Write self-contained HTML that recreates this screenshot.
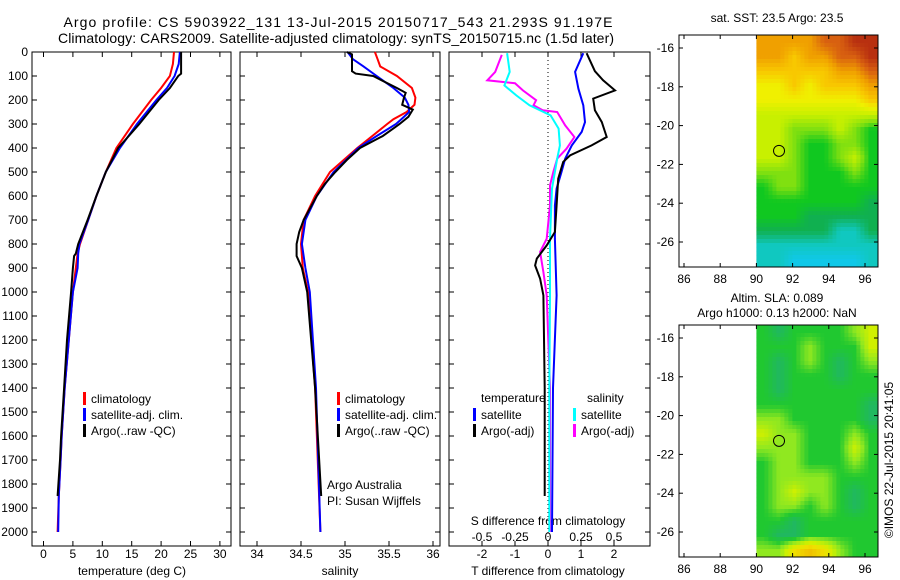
<!DOCTYPE html>
<html><head><meta charset="utf-8"><style>
body{margin:0;background:#fff}
svg{display:block;font-family:"Liberation Sans",sans-serif;font-size:12px}
</style></head><body>
<svg id="c" width="900" height="580" xmlns="http://www.w3.org/2000/svg"></svg>
<script>
// ---------- data ----------
const depthTemp = [0,50,100,150,200,300,400,500,600,700,800,840,900,1000,1200,1400,1600,1700,1850,2000];
const tempClim =  [22.2,22.0,21.5,20.0,18.3,15.2,12.4,10.6,9.0,7.6,6.2,5.8,5.5,5.0,4.3,3.6,3.1,2.9,2.6,2.4];
const tempSat =   [23.2,23.0,22.3,21.0,19.2,15.9,13.0,10.6,9.0,7.6,6.1,5.9,5.8,5.0,4.3,3.6,3.1,2.9,2.6,2.5];
const depthArgo = [0,90,100,150,200,300,400,500,600,700,800,840,850,900,1000,1200,1400,1600,1700,1850];
const tempArgo =  [23.4,23.4,22.9,21.5,19.6,16.3,12.7,10.6,9.0,7.5,5.9,5.5,5.2,5.0,4.7,4.0,3.5,3.0,2.8,2.4];

const depthSal = [0,30,60,100,150,190,220,250,280,300,350,400,500,600,700,800,900,1000,1400,2000];
const salClim = [35.34,35.37,35.40,35.59,35.76,35.80,35.79,35.70,35.55,35.48,35.31,35.14,34.83,34.66,34.53,34.50,34.52,34.58,34.66,34.72];
const salSat =  [35.03,35.09,35.21,35.36,35.55,35.68,35.72,35.73,35.64,35.58,35.36,35.15,34.87,34.68,34.55,34.51,34.55,34.60,34.67,34.72];
const depthSalArgo = [0,10,80,90,100,150,170,190,220,240,270,300,350,400,450,500,550,600,700,750,800,850,900,1000,1400,1850];
const salArgo = [35.02,35.08,35.08,35.12,35.32,35.59,35.69,35.67,35.65,35.77,35.72,35.62,35.43,35.17,35.02,34.89,34.77,34.68,34.53,34.48,34.45,34.45,34.51,34.57,34.66,34.73];

const depthDT = [5,83,153,222,292,333,389,444,500,569,639,778,917,1014,1400,2000];
const dTsat = [1.07,0.82,0.92,1.07,1.12,1.02,0.72,0.52,0.41,0.26,0.21,0.21,0.24,0.26,0.15,0.12];
const depthDTargo = [5,80,118,160,194,243,292,354,389,431,458,528,639,750,806,861,889,944,1014,1400,1850];
const dTargo = [1.17,1.42,1.67,2.03,1.37,1.42,1.63,1.78,1.32,0.67,0.46,0.31,0.26,0.21,-0.04,-0.34,-0.39,-0.24,-0.14,-0.10,-0.10];
const depthDS = [5,83,139,181,222,264,319,389,444,569,778,1014,1400,2000];
const dSsat = [-0.31,-0.29,-0.33,-0.24,-0.14,0.02,0.08,0.09,0.07,0.03,0.015,0.015,0.01,0.01];
const depthDSargo = [12,83,118,130,160,201,222,243,250,306,354,403,444,500,556,639,778,833,917,1014,1400,2000];
const dSargo = [-0.35,-0.40,-0.46,-0.25,-0.19,-0.09,-0.11,-0.04,0.07,0.13,0.20,0.14,0.07,0.04,0.015,0.015,-0.01,-0.06,-0.035,-0.01,0.015,0.015];

const sstGrid = [
[8,8,8,8,9,9,10,10],[8,8,7,8,8,9,9,10],[7,7,7,7,7,8,8,9],[6,6,7,6,7,7,7,8],
[6,6,6,6,6,6,6,7],[5,5,5,5,5,5,5,5],[5,5,4,4,4,5,4,3],[5,5,4,3,3,4,4,3],
[5,5,4,3,3,4,5,3],[4,4,4,3,3,3,4,3],[3,4,4,3,3,3,3,3],[3,3,3,3,3,3,3,2],
[3,3,3,2,2,2,2,2],[2,2,2,2,2,1,1,2],[1,1,1,1,1,1,1,1],[1,1,0,0,0,0,0,1]];
const slaGrid = [
[3,2,3,3,3,3,4,5],[3,3,3,4,3,3,3,5],[3,2,3,4,3,2,3,4],[3,2,3,3,3,2,3,3],
[3,2,3,3,3,3,3,3],[3,3,3,3,3,3,3,2],[4,4,3,3,3,3,3,2],[5,4,4,3,3,3,4,3],
[4,4,4,3,3,3,5,3],[3,4,4,3,3,3,4,3],[3,4,4,4,4,3,3,3],[3,4,5,4,4,3,2,3],
[3,4,4,3,4,3,2,3],[3,3,2,3,3,3,3,3],[3,2,2,3,3,3,3,3],[4,4,6,7,6,4,3,3]];
const sstColors = ['#10c8e8','#10c8c0','#10b050','#10c820','#80e010','#c8f000','#f0f000','#f8c800','#f0a000','#d86010','#b83010'];
const slaColors = ['#10c8c0','#10b880','#20b860','#20c830','#90e820','#d0f000','#f0e000','#f0c000'];
const depthTicks = [0,100,200,300,400,500,600,700,800,900,1000,1100,1200,1300,1400,1500,1600,1700,1800,1900,2000];
const tempTicks = [0,5,10,15,20,25,30];
const salTicks = [34,34.5,35,35.5,36];
const salTickLabels = ['34','34.5','35','35.5','36'];
const dTTicks = [-2,-1,0,1,2];
const dSTicks = [-0.5,-0.25,0,0.25,0.5];
const dSTickLabels = ['-0.5','-0.25','0','0.25','0.5'];
const lonTicks = [86,88,90,92,94,96];
const latTicks = [-16,-18,-20,-22,-24,-26];
const argoLon = 91.25, argoLat = -21.3;

// ---------- helpers ----------
const NS='http://www.w3.org/2000/svg', svg=document.getElementById('c');
function el(tag,attrs,parent){const e=document.createElementNS(NS,tag);for(const k in attrs)e.setAttribute(k,attrs[k]);(parent||svg).appendChild(e);return e;}
function txt(x,y,s,anchor,parent){const t=el('text',{x:x,y:y,'text-anchor':anchor||'start',fill:'#000'},parent);t.textContent=s;return t;}
const yD = d => 52 + d*0.24;
const xT = t => 43.5 + t*5.88;
const xS = s => 257 + (s-34)*88;
const xDT = v => 548 + v*33;
const xDS = v => 548 + v*132;
const TOP=52, BOT=546;

function panel(x0,x1,name){
  const r=el('rect',{x:x0,y:TOP,width:x1-x0,height:BOT-TOP,fill:'none',stroke:'#000','stroke-width':1});
  
  
  depthTicks.forEach(d=>{el('line',{x1:x0,x2:x0+5,y1:yD(d),y2:yD(d),stroke:'#000'});el('line',{x1:x1-5,x2:x1,y1:yD(d),y2:yD(d),stroke:'#000'});});
}
function line(xs,ds,fx,color,name,w){
  const pts=xs.map((v,i)=>fx(v).toFixed(1)+','+yD(ds[i]).toFixed(1)).join(' ');
  const p=el('polyline',{points:pts,fill:'none',stroke:color,'stroke-width':w||2});
  
  
}
function xticks(ticks,labels,fx,ylab){
  ticks.forEach((t,i)=>{const x=fx(t);el('line',{x1:x,x2:x,y1:TOP,y2:TOP+5,stroke:'#000'});el('line',{x1:x,x2:x,y1:BOT-5,y2:BOT,stroke:'#000'});
    const lt=txt(x,ylab,labels[i],'middle');
    
    });
}

// titles
let t1=txt(338,27,'Argo profile: CS 5903922_131 13-Jul-2015 20150717_543 21.293S 91.197E','middle');
t1.setAttribute('font-size','14');
t1.setAttribute('textLength','549');


let t2=txt(336,43,'Climatology: CARS2009. Satellite-adjusted climatology: synTS_20150715.nc (1.5d later)','middle');
t2.setAttribute('font-size','14');
t2.setAttribute('textLength','556');



// panel 1 temperature
panel(32,231,'temperature-panel');
depthTicks.forEach(d=>{const l=txt(28,yD(d)+4,String(d),'end');
  
  });
xticks(tempTicks,tempTicks.map(String),xT,558);
let a1=txt(132,575,'temperature (deg C)','middle');


line(tempClim,depthTemp,xT,'#f00','temp-climatology-line');
line(tempSat,depthTemp,xT,'#00f','temp-satellite-line');
line(tempArgo,depthArgo,xT,'#000','temp-argo-line');

// panel 2 salinity
panel(240,440,'salinity-panel');
xticks(salTicks,salTickLabels,xS,558);
let a2=txt(340,575,'salinity','middle');


line(salClim,depthSal,xS,'#f00','sal-climatology-line');
line(salSat,depthSal,xS,'#00f','sal-satellite-line');
line(salArgo,depthSalArgo,xS,'#000','sal-argo-line');

// panel 3 differences
panel(449,650,'difference-panel');
el('line',{x1:548,x2:548,y1:TOP,y2:BOT,stroke:'#000','stroke-dasharray':'1,3'});
xticks(dTTicks,dTTicks.map(String),xDT,558);
dSTicks.forEach((t,i)=>{const l=txt(xDS(t),541,dSTickLabels[i],'middle');
  
  });
let a3=txt(548,575,'T difference from climatology','middle');


let a4=txt(548,525,'S difference from climatology','middle');


line(dSargo,depthDSargo,xDS,'#f0f','s-diff-argo-line');
line(dSsat,depthDS,xDS,'#0ff','s-diff-satellite-line');
line(dTsat,depthDT,xDT,'#00f','t-diff-satellite-line');
line(dTargo,depthDTargo,xDT,'#000','t-diff-argo-line');

// legends
function legend(x,y,color,label,name){
  const g=el('g',{});
  
  
  el('rect',{x:x,y:y-10,width:3,height:13,fill:color},g);
  txt(x+8,y+1,label,'start',g);
}
legend(83,402,'#f00','climatology','legend-climatology');
legend(83,418,'#00f','satellite-adj. clim.','legend-satellite');
legend(83,434,'#000','Argo(..raw -QC)','legend-argo');
legend(337,402,'#f00','climatology','legend-climatology-sal');
legend(337,418,'#00f','satellite-adj. clim.','legend-satellite-sal');
legend(337,434,'#000','Argo(..raw -QC)','legend-argo-sal');
let lt=txt(481,402,'temperature');


let ls=txt(587,402,'salinity');


legend(473,418,'#00f','satellite','legend-t-satellite');
legend(473,434,'#000','Argo(-adj)','legend-t-argo');
legend(573,418,'#0ff','satellite','legend-s-satellite');
legend(573,434,'#f0f','Argo(-adj)','legend-s-argo');
let c1=txt(327,489,'Argo Australia');


let c2=txt(327,505,'PI: Susan Wijffels');



// color interpolation
function hex(c){return [parseInt(c.slice(1,3),16),parseInt(c.slice(3,5),16),parseInt(c.slice(5,7),16)];}
function cmap(colors,v){
  v=Math.max(0,Math.min(colors.length-1,v));
  const i=Math.min(colors.length-2,Math.floor(v)),f=v-i;
  const a=hex(colors[i]),b=hex(colors[i+1]);
  return 'rgb('+a.map((x,k)=>Math.round(x+(b[k]-x)*f)).join(',')+')';
}
function sample(grid,fr,fc){
  const R=grid.length,C=grid[0].length;
  let r=fr*R-0.5,c=fc*C-0.5;
  r=Math.max(0,Math.min(R-1,r));c=Math.max(0,Math.min(C-1,c));
  const r0=Math.floor(r),c0=Math.floor(c),r1=Math.min(R-1,r0+1),c1=Math.min(C-1,c0+1);
  const dr=r-r0,dc=c-c0;
  return grid[r0][c0]*(1-dr)*(1-dc)+grid[r0][c1]*(1-dr)*dc+grid[r1][c0]*dr*(1-dc)+grid[r1][c1]*dr*dc;
}

// maps
function map(y0,grid,colors,name){
  const X0=679,X1=878,Y1=y0+232;
  const xL=lon=>684+(lon-86)*18.1;
  const yL=lat=>y0+13+(-16-lat)*19.4;
  const g=el('g',{});
  
  
  const xa=xL(90),xb=X1,ya=y0,yb=Y1,px=4;
  for(let y=ya;y<yb;y+=px){for(let x=xa;x<xb;x+=px){
    const v=sample(grid,(y+px/2-ya)/(yb-ya),(x+px/2-xa)/(xb-xa));
    el('rect',{x:x.toFixed(1),y:y.toFixed(1),width:Math.min(px,xb-x)+0.3,height:Math.min(px,yb-y)+0.3,fill:cmap(colors,v)},g);
  }}
  el('rect',{x:X0,y:y0,width:X1-X0,height:Y1-y0,fill:'none',stroke:'#000'},g);
  lonTicks.forEach(l=>{const x=xL(l);el('line',{x1:x,x2:x,y1:y0,y2:y0+4,stroke:'#000'},g);el('line',{x1:x,x2:x,y1:Y1-4,y2:Y1,stroke:'#000'},g);txt(x,Y1+16,String(l),'middle',g);});
  latTicks.forEach(l=>{const y=yL(l);el('line',{x1:X0,x2:X0+4,y1:y,y2:y,stroke:'#000'},g);el('line',{x1:X1-4,x2:X1,y1:y,y2:y,stroke:'#000'},g);txt(X0-5,y+4,String(l),'end',g);});
  const m=el('circle',{cx:xL(argoLon),cy:yL(argoLat),r:5.5,fill:'none',stroke:'#000'},g);
  
  
}
map(35,sstGrid,sstColors,'sst-map');
let m1=txt(777,22,'sat. SST: 23.5 Argo: 23.5','middle');


map(325,slaGrid,slaColors,'sla-map');
let m2=txt(777,302,'Altim. SLA: 0.089','middle');


let m3=txt(777,317,'Argo h1000: 0.13 h2000: NaN','middle');


let cr=txt(0,0,'©IMOS 22-Jul-2015 20:41:05','middle');
cr.setAttribute('transform','translate(893,460) rotate(-90)');


</script>
</body></html>
